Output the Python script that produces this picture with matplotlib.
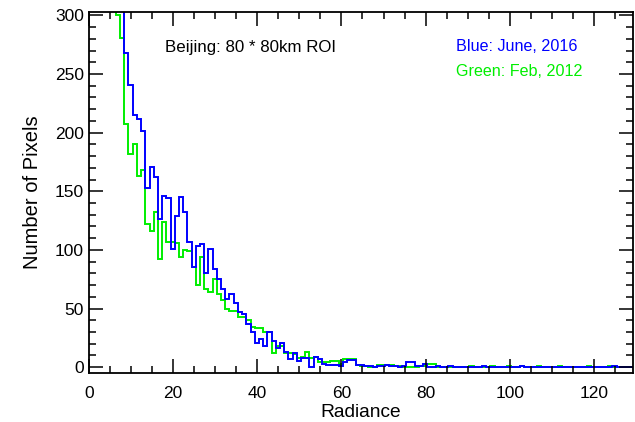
import matplotlib
matplotlib.use("Agg")
import matplotlib.pyplot as plt
import numpy as np
from matplotlib.ticker import MultipleLocator

plt.rcParams['font.family'] = ['Liberation Sans', 'DejaVu Sans']

# histogram bins: width 1, first bin starts at 5.4
bin_start = 5.4
bin_width = 1.0

june_2016 = [520, 420, 340, 268, 241, 215, 212, 201, 153, 171,
             162, 126, 146, 144, 101, 129, 145, 132, 107, 85,
             103, 105, 80, 101, 84, 75, 67, 58, 62, 55,
             47, 45, 37, 30, 21, 24, 18, 30, 22, 16,
             21, 13, 7, 12, 5, 8, 8, 0, 9, 7,
             3, 2, 2, 2, 1, 4, 6, 6, 2, 2,
             1, 1, 0, 1, 1, 2, 1, 1, 0, 1,
             4, 4, 1, 1, 3, 0, 0, 1, 0, 0,
             1, 0, 0, 0, 0, 0, 0, 0, 1, 0,
             0, 0, 0, 0, 0, 0, 0, 1, 0, 0,
             0, 0, 0, 0, 0, 0, 0, 0, 0, 0,
             0, 0, 0, 0, 0, 0, 0, 0, 0, 1,
             0, 0, 0, 0]

feb_2012 = [380, 300, 281, 207, 182, 190, 163, 168, 122, 116,
            132, 92, 124, 107, 107, 106, 94, 100, 99, 85,
            70, 94, 67, 64, 75, 62, 57, 50, 48, 48,
            43, 43, 40, 34, 33, 33, 30, 30, 12, 18,
            18, 12, 12, 11, 8, 9, 13, 8, 9, 4,
            4, 4, 5, 5, 3, 7, 7, 7, 2, 1,
            1, 0, 0, 2, 2, 2, 2, 1, 1, 0,
            0, 0, 0, 1, 1, 3, 3, 0, 0, 0,
            0, 0, 0, 0, 0, 1, 0, 0, 0, 0,
            1, 0, 0, 0, 1, 0, 0, 1, 0, 0,
            0, 1, 0, 0, 0, 0, 1, 0, 0, 0,
            0, 0, 0, 1, 0, 0, 0, 0, 1, 0,
            0, 0, 0, 0]

edges = bin_start + bin_width * np.arange(len(june_2016) + 1)

fig = plt.figure(figsize=(6.35, 4.22), dpi=100)
ax = fig.add_axes([0.140, 0.116, 0.857, 0.856])

ax.stairs(feb_2012, edges, baseline=None, color='#00ee00', lw=1.4)
ax.stairs(june_2016, edges, baseline=None, color='#0000ff', lw=1.4)

ax.set_xlim(0, 129.3)
ax.set_ylim(-5, 303)

ax.xaxis.set_major_locator(MultipleLocator(20))
ax.xaxis.set_minor_locator(MultipleLocator(5))
ax.yaxis.set_major_locator(MultipleLocator(50))
ax.yaxis.set_minor_locator(MultipleLocator(10))
ax.tick_params(which='both', direction='in', top=True, right=True,
               width=1.1, labelsize=12.5)
ax.tick_params(axis='x', pad=9.5)
ax.tick_params(axis='y', pad=3.5)
ax.tick_params(which='major', length=10)
ax.tick_params(which='minor', length=5)
for s in ax.spines.values():
    s.set_linewidth(1.3)

ax.set_xlabel('Radiance', fontsize=13.8, labelpad=2)
ax.set_ylabel('Number of Pixels', fontsize=14.5, labelpad=9)

ax.text(18.0, 272.5, 'Beijing: 80 * 80km ROI', fontsize=12.2, va='center')
ax.text(87.2, 273.5, 'Blue: June, 2016', fontsize=11.6, va='center', color='#0000ff')
ax.text(87.2, 252, 'Green: Feb, 2012', fontsize=11.6, va='center', color='#00ee00')

fig.savefig('out.png', dpi=100)
